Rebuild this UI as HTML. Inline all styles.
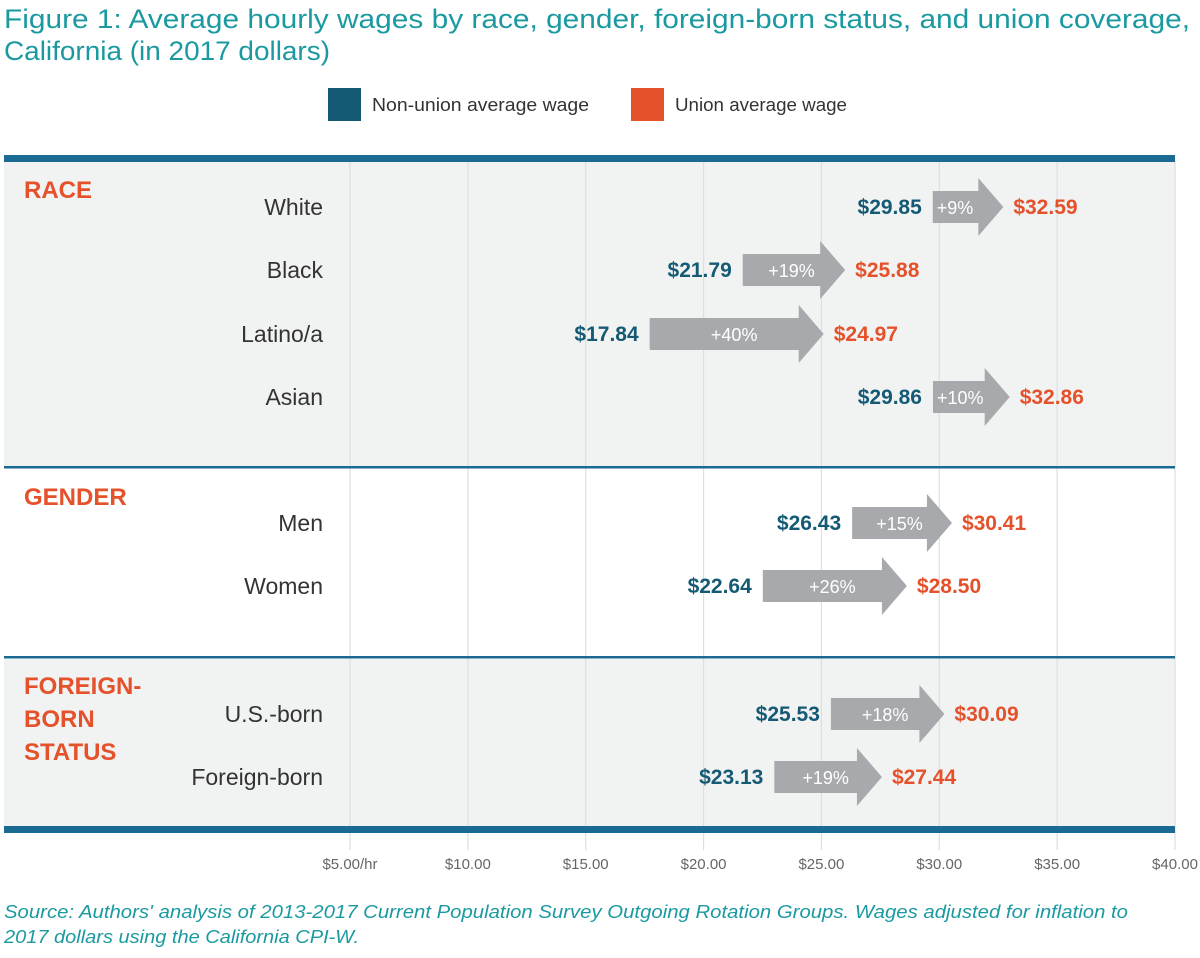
<!DOCTYPE html>
<html><head><meta charset="utf-8"><style>
body{margin:0;background:#fff;width:1200px;height:953px;overflow:hidden;font-family:"Liberation Sans",sans-serif;}
</style></head><body>
<svg width="1200" height="953" xmlns="http://www.w3.org/2000/svg">
<text x="4" y="28" font-size="27" fill="#1a9aa0" textLength="1186" lengthAdjust="spacingAndGlyphs">Figure 1: Average hourly wages by race, gender, foreign-born status, and union coverage,</text>
<text x="4" y="60" font-size="27" fill="#1a9aa0" textLength="326" lengthAdjust="spacingAndGlyphs">California (in 2017 dollars)</text>
<g>
<rect x="328" y="88" width="33" height="33" fill="#155a75"/>
<text x="372" y="111" font-size="18" fill="#333" textLength="217" lengthAdjust="spacingAndGlyphs">Non-union average wage</text>
<rect x="631" y="88" width="33" height="33" fill="#e5512a"/>
<text x="675" y="111" font-size="18" fill="#333" textLength="172" lengthAdjust="spacingAndGlyphs">Union average wage</text>
</g>
<rect x="4" y="161" width="1171" height="306" fill="#f1f2f2"/>
<rect x="4" y="659" width="1171" height="167" fill="#f1f2f2"/>
<g id="grid"></g>
<rect x="4" y="155" width="1171" height="7" fill="#1b6a93"/>
<rect x="4" y="466" width="1171" height="2.5" fill="#1b6a93"/>
<rect x="4" y="656" width="1171" height="2.5" fill="#1b6a93"/>
<rect x="4" y="826" width="1171" height="7" fill="#1b6a93"/>
<text x="24" y="198" font-size="24" font-weight="bold" fill="#e5512a">RACE</text>
<text x="24" y="505" font-size="24" font-weight="bold" fill="#e5512a">GENDER</text>
<text font-size="24" font-weight="bold" fill="#e5512a"><tspan x="24" y="694">FOREIGN-</tspan><tspan x="24" y="727">BORN</tspan><tspan x="24" y="760">STATUS</tspan></text>
<g id="rows"></g>
<g id="ticks"></g>
<text x="4" y="918" font-size="18" font-style="italic" fill="#1a9aa0" textLength="1124" lengthAdjust="spacingAndGlyphs">Source: Authors' analysis of 2013-2017 Current Population Survey Outgoing Rotation Groups. Wages adjusted for inflation to</text>
<text x="4" y="943" font-size="18" font-style="italic" fill="#1a9aa0" textLength="355" lengthAdjust="spacingAndGlyphs">2017 dollars using the California CPI-W.</text>
</svg>
<script>
const categories=["White","Black","Latino/a","Asian","Men","Women","U.S.-born","Foreign-born"];
const nonUnion=[29.85,21.79,17.84,29.86,26.43,22.64,25.53,23.13];
const union=[32.59,25.88,24.97,32.86,30.41,28.50,30.09,27.44];
const pctLabels=["+9%","+19%","+40%","+10%","+15%","+26%","+18%","+19%"];
const tickValues=[5,10,15,20,25,30,35,40];
const tickLabels=["$5.00/hr","$10.00","$15.00","$20.00","$25.00","$30.00","$35.00","$40.00"];
const rowY=[207,270,334,397,523,586,714,777];
const NS="http://www.w3.org/2000/svg";
function xs(v){return 350+(v-5)*(1175-350)/35;}
function mk(t,a,p){const e=document.createElementNS(NS,t);for(const k in a)e.setAttribute(k,a[k]);p.appendChild(e);return e;}
const grid=document.getElementById('grid'),ticks=document.getElementById('ticks'),rows=document.getElementById('rows');
tickValues.forEach((v,i)=>{
 const l=mk('line',{x1:xs(v),x2:xs(v),y1:161,y2:850,stroke:'#dcdfe0','stroke-width':1.2},grid);
 
 
 const t=mk('text',{x:xs(v),y:869,'font-size':15,fill:'#666','text-anchor':'middle'},ticks);
 t.textContent=tickLabels[i];
 
 
});
categories.forEach((c,i)=>{
 const y=rowY[i],x0=xs(nonUnion[i])-3,x1=xs(union[i])+3;
 const lab=mk('text',{x:323,y:y+8,'font-size':23,fill:'#333','text-anchor':'end'},rows);
 lab.textContent=c;
 
 
 const hl=25,bh=16,hh=29;
 const ar=mk('polygon',{points:`${x0},${y-bh} ${x1-hl},${y-bh} ${x1-hl},${y-hh} ${x1},${y} ${x1-hl},${y+hh} ${x1-hl},${y+bh} ${x0},${y+bh}`,fill:'#a7a9ac'},rows);
 
 
 const bodyW=x1-hl-x0;
 const p=mk('text',{x:bodyW<60?x0+4:x0+bodyW/2+10,y:y+7,'font-size':18,fill:'#fff','text-anchor':bodyW<60?'start':'middle'},rows);
 p.textContent=pctLabels[i];
 
 
 const a=mk('text',{x:x0-11,y:y+7,'font-size':21,'font-weight':'bold',fill:'#155a75','text-anchor':'end'},rows);
 a.textContent='$'+nonUnion[i].toFixed(2);
 
 
 const b=mk('text',{x:x1+10,y:y+7,'font-size':21,'font-weight':'bold',fill:'#e5512a'},rows);
 b.textContent='$'+union[i].toFixed(2);
 
 
});
</script>
</body></html>
